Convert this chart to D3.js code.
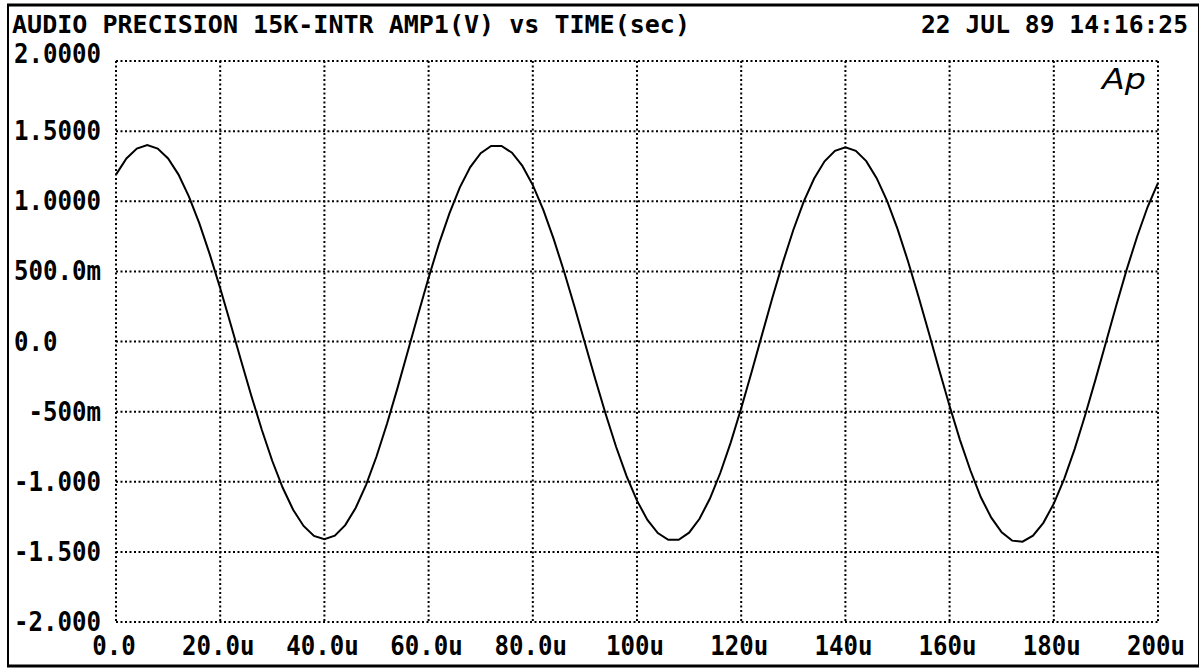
<!DOCTYPE html>
<html>
<head>
<meta charset="utf-8">
<script src="https://cdn.jsdelivr.net/npm/d3@7"></script>
<style>
  body { margin: 0; background: #fff; }
  svg { display: block; }
  .label { font-family: "DejaVu Sans Mono", monospace; font-weight: bold; font-size: 26px; fill: #000; }
  .head { font-size: 25px; }
  .logo { font-family: "DejaVu Sans", sans-serif; font-style: italic; font-size: 28px; fill: #000; }
</style>
</head>
<body>
<div id="chart-container"><svg></svg></div>
<script>
const chartSize = {width: 1201, height: 669};
const plot = {left: 116, right: 1158, top: 61, bottom: 622};
const charWidth = 14.5;

const titleText = "AUDIO PRECISION 15K-INTR AMP1(V) vs TIME(sec)";
const dateText = "22 JUL 89 14:16:25";

const yTicks = [2, 1.5, 1, 0.5, 0, -0.5, -1, -1.5, -2];
const yTickLabels = ["2.0000", "1.5000", "1.0000", "500.0m", "0.0", " -500m", "-1.000", "-1.500", "-2.000"];
const xTicks = [0, 20, 40, 60, 80, 100, 120, 140, 160, 180, 200];
const xTickLabels = ["0.0", "20.0u", "40.0u", "60.0u", "80.0u", "100u", "120u", "140u", "160u", "180u", "200u"];

// time in microseconds, amplitude in volts
const sampleTimes = [
  0, 2, 4, 6, 8, 10, 12, 14, 16, 18, 20, 22, 24, 26, 28, 30, 32, 34, 36, 38, 40,
  42, 44, 46, 48, 50, 52, 54, 56, 58, 60, 62, 64, 66, 68, 70, 72,
  74, 76, 78, 80, 82, 84, 86, 88, 90, 92, 94, 96, 98, 100, 102, 104, 106,
  108, 110, 112, 114, 116, 118, 120, 122, 124, 126, 128, 130, 132, 134, 136, 138, 140,
  142, 144, 146, 148, 150, 152, 154, 156, 158, 160, 162, 164, 166, 168, 170, 172,
  174, 176, 178, 180, 182, 184, 186, 188, 190, 192, 194, 196, 198, 200
];
const amp1Values = [
  1.190, 1.305, 1.376, 1.400, 1.376, 1.305, 1.190, 1.033, 0.842, 0.621, 0.380, 0.125, -0.135, -0.390, -0.631, -0.852, -1.043, -1.200, -1.315, -1.386, -1.410,
  -1.385, -1.309, -1.187, -1.022, -0.820, -0.588, -0.336, -0.072, 0.195, 0.455, 0.698, 0.914, 1.099, 1.244, 1.343, 1.394,
  1.394, 1.346, 1.252, 1.115, 0.940, 0.732, 0.499, 0.249, -0.010, -0.269, -0.519, -0.752, -0.960, -1.135, -1.272, -1.366, -1.414,
  -1.414, -1.363, -1.264, -1.120, -0.936, -0.719, -0.476, -0.217, 0.049, 0.313, 0.564, 0.795, 0.997, 1.162, 1.285, 1.360, 1.385,
  1.360, 1.286, 1.165, 1.003, 0.803, 0.574, 0.325, 0.064, -0.201, -0.460, -0.703, -0.920, -1.111, -1.256, -1.361, -1.420,
  -1.427, -1.384, -1.293, -1.156, -0.979, -0.767, -0.528, -0.272, -0.007, 0.258, 0.514, 0.749, 0.959, 1.131
];

const drawChart = () => {
  const svg = d3.select("#chart-container svg")
    .attr("width", chartSize.width)
    .attr("height", chartSize.height);

  const x = d3.scaleLinear().domain([0, 200]).range([plot.left, plot.right]);
  const y = d3.scaleLinear().domain([-2, 2]).range([plot.bottom, plot.top]);

  // outer frame of the plotter page
  svg.append("line").attr("x1", 7).attr("x2", 1199).attr("y1", 5).attr("y2", 5)
    .attr("stroke", "#000").attr("stroke-width", 3);
  svg.append("line").attr("x1", 8).attr("x2", 8).attr("y1", 4).attr("y2", 667)
    .attr("stroke", "#000").attr("stroke-width", 2);
  svg.append("line").attr("x1", 7).attr("x2", 1199).attr("y1", 666).attr("y2", 666)
    .attr("stroke", "#000").attr("stroke-width", 3);
  svg.append("line").attr("x1", 1198.5).attr("x2", 1198.5).attr("y1", 4).attr("y2", 667)
    .attr("stroke", "#000").attr("stroke-width", 1);

  // dotted grid, the plot border is dotted too
  const grid = svg.append("g")
    .attr("stroke", "#000")
    .attr("stroke-width", 2)
    .attr("stroke-dasharray", "2 2.5");

  grid.selectAll(".v")
    .data(xTicks)
    .enter()
    .append("line")
    .attr("x1", d => x(d)).attr("x2", d => x(d))
    .attr("y1", plot.top).attr("y2", plot.bottom);

  grid.selectAll(".h")
    .data(yTicks)
    .enter()
    .append("line")
    .attr("x1", plot.left).attr("x2", plot.right)
    .attr("y1", d => y(d)).attr("y2", d => y(d));

  svg.append("text")
    .attr("class", "label head")
    .attr("x", 12).attr("y", 33)
    .attr("textLength", 678).attr("lengthAdjust", "spacingAndGlyphs")
    .text(titleText);

  svg.append("text")
    .attr("class", "label head")
    .attr("x", 921).attr("y", 33)
    .attr("textLength", 267).attr("lengthAdjust", "spacingAndGlyphs")
    .text(dateText);

  // fixed-width tick fields, leading spaces shift the text right
  svg.selectAll(".ytick")
    .data(yTicks)
    .enter()
    .append("text")
    .attr("class", "label")
    .attr("x", (d, i) => 14 + (yTickLabels[i].length - yTickLabels[i].trimStart().length) * charWidth)
    .attr("y", (d, i) => i === 0 ? y(d) + 2 : y(d) + 9)
    .attr("textLength", (d, i) => yTickLabels[i].trim().length * charWidth)
    .attr("lengthAdjust", "spacingAndGlyphs")
    .text((d, i) => yTickLabels[i].trim());

  svg.selectAll(".xtick")
    .data(xTicks)
    .enter()
    .append("text")
    .attr("class", "label")
    .attr("text-anchor", "middle")
    .attr("x", d => x(d) - 2)
    .attr("y", 655)
    .attr("textLength", (d, i) => xTickLabels[i].length * charWidth)
    .attr("lengthAdjust", "spacingAndGlyphs")
    .text((d, i) => xTickLabels[i]);

  svg.append("text")
    .attr("class", "logo")
    .attr("x", 1102).attr("y", 89)
    .attr("textLength", 44).attr("lengthAdjust", "spacingAndGlyphs")
    .text("Ap");

  const line = d3.line()
    .x((d, i) => x(sampleTimes[i]))
    .y(d => y(d));

  svg.append("path")
    .datum(amp1Values)
    .attr("fill", "none")
    .attr("stroke", "#000")
    .attr("stroke-width", 2)
    .attr("d", line);
};

window.onload = drawChart;
</script>
</body>
</html>
